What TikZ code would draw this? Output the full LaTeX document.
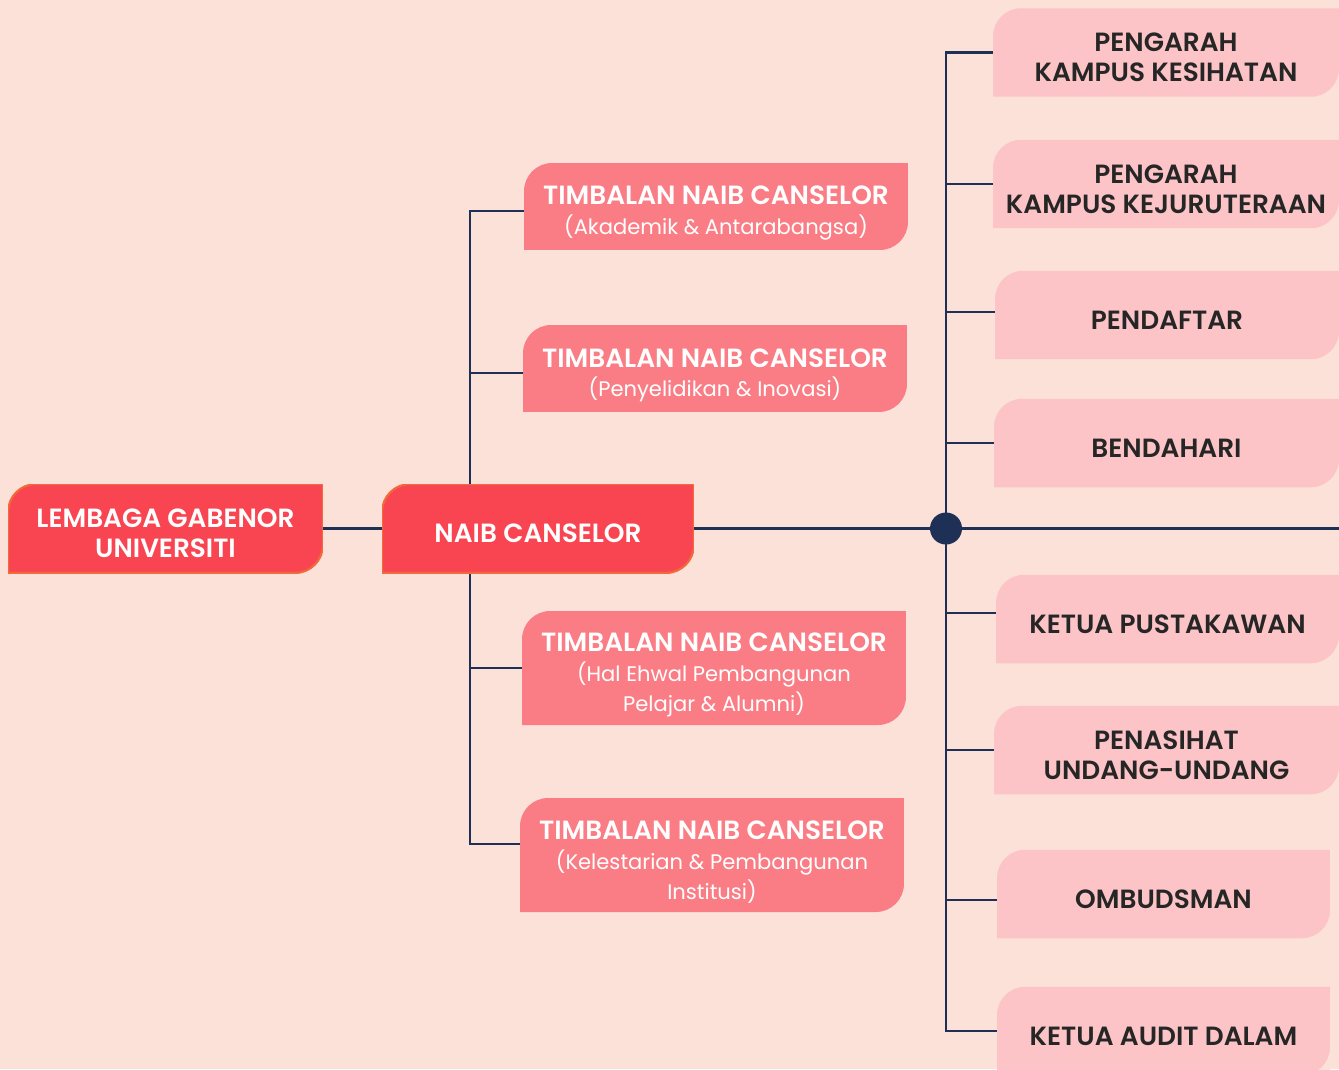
\documentclass[tikz,border=0pt]{standalone}
\usepackage{fontspec}
\setmainfont{Poppins}[BoldFont={Poppins SemiBold}]
\usetikzlibrary{positioning, backgrounds}

\definecolor{paper}{HTML}{FBE1D8}
\definecolor{navy}{HTML}{1F3057}
\definecolor{headred}{HTML}{F94552}
\definecolor{rimorange}{HTML}{F26A3A}
\definecolor{deputyred}{HTML}{FA7D85}
\definecolor{officepink}{HTML}{FCC4C7}
\definecolor{inkdark}{HTML}{262626}

\newcommand{\subline}[1]{{\mdseries\fontsize{12}{17}\selectfont #1}}
\newcommand{\lift}[1][16.2pt]{\rule{0pt}{#1}}

\tikzset{
	leaf/.style={fill=paper, inner sep=0pt, align=center,
		font=\fontsize{15}{17}\selectfont\bfseries,
		path picture={
			\filldraw[#1] (path picture bounding box.south west)
				-- ([yshift=-16pt]path picture bounding box.north west)
				arc[start angle=180, end angle=90, radius=16pt]
				-- (path picture bounding box.north east)
				-- ([yshift=16pt]path picture bounding box.south east)
				arc[start angle=0, end angle=-90, radius=16pt]
				-- cycle;}},
	chief/.style={leaf={fill=headred, draw=rimorange, line width=1.2pt},
		text=white, minimum width=6.3cm, minimum height=1.78cm},
	deputy/.style={leaf={fill=deputyred, draw=none},
		text=white, minimum width=7.68cm, minimum height=1.74cm},
	office/.style={leaf={fill=officepink, draw=none},
		text=inkdark, minimum width=6.9cm, minimum height=1.77cm},
	wire/.style={draw=navy, line width=1.15pt}
}

\begin{document}
\begin{tikzpicture}[x=0.02cm, y=-0.02cm]
	\useasboundingbox (0,0) rectangle (1339,1069);

	% top of the chart
	\node[chief] (lgu) at (165.5,528.5) {\lift LEMBAGA GABENOR\\UNIVERSITI};
	\node[chief, minimum width=6.24cm] (nc) at (538,528.5) {\lift NAIB CANSELOR};

	% deputies
	\node[deputy] (tnc1) at (716,206.5) {\lift[18.4pt]TIMBALAN NAIB CANSELOR\\\subline{(Akademik \& Antarabangsa)}};
	\node[deputy] (tnc2) at (715,368.5) {\lift[18.4pt]TIMBALAN NAIB CANSELOR\\\subline{(Penyelidikan \& Inovasi)}};
	\node[deputy, minimum height=2.28cm] (tnc3) at (714,668) {\lift[18.4pt]TIMBALAN NAIB CANSELOR\\\subline{(Hal Ehwal Pembangunan}\\\subline{Pelajar \& Alumni)}};
	\node[deputy, minimum height=2.28cm] (tnc4) at (712,855) {\lift[18.4pt]TIMBALAN NAIB CANSELOR\\\subline{(Kelestarian \& Pembangunan}\\\subline{Institusi)}};

	% offices
	\node[office, minimum width=6.92cm] (kes) at (1166,52.5) {\lift PENGARAH\\KAMPUS KESIHATAN};
	\node[office, minimum width=6.92cm] (kej) at (1166,184) {\lift PENGARAH\\KAMPUS KEJURUTERAAN};
	\node[office, minimum width=6.88cm] (pdf) at (1167,315) {\lift PENDAFTAR};
	\node[office] (bdh) at (1166.5,443) {\lift BENDAHARI};
	\node[office, minimum width=6.86cm] (pst) at (1167.5,619) {\lift KETUA PUSTAKAWAN};
	\node[office] (psh) at (1166.5,750) {\lift PENASIHAT\\UNDANG-UNDANG};
	\node[office, minimum width=6.66cm] (omb) at (1163.5,894) {\lift OMBUDSMAN};
	\node[office, minimum width=6.66cm] (aud) at (1163.5,1031) {\lift KETUA AUDIT DALAM};

	\coordinate (lspine) at (470,0);
	\coordinate (hub) at (946,528.5);
	\coordinate (exit) at (1339,528.5);

	\begin{scope}[on background layer]
		\fill[paper] (0,0) rectangle (1339,1069);
		\draw[wire] (lgu) -- (nc);
		\draw[wire] ([yshift=-0.09cm]tnc1.west) -| (nc.north -| lspine);
		\draw[wire] ([yshift=-0.09cm]tnc2.west) -- ([yshift=-0.09cm]tnc2.west -| lspine);
		\draw[wire] (tnc3.west) -- (tnc3.west -| lspine);
		\draw[wire] ([yshift=0.22cm]tnc4.west) -| (nc.south -| lspine);
		\draw[wire] (nc.east) -- (exit);
		\draw[wire] (hub) |- (kes.west);
		\draw[wire] (hub) |- (kej.west);
		\draw[wire] (hub) |- ([yshift=0.06cm]pdf.west);
		\draw[wire] (hub) |- (bdh.west);
		\draw[wire] (hub) |- ([yshift=0.12cm]pst.west);
		\draw[wire] (hub) |- (psh.west);
		\draw[wire] (hub) |- ([yshift=-0.12cm]omb.west);
		\draw[wire] (hub) |- (aud.west);
	\end{scope}
	\fill[navy] (hub) circle[radius=0.32cm];
\end{tikzpicture}
\end{document}
